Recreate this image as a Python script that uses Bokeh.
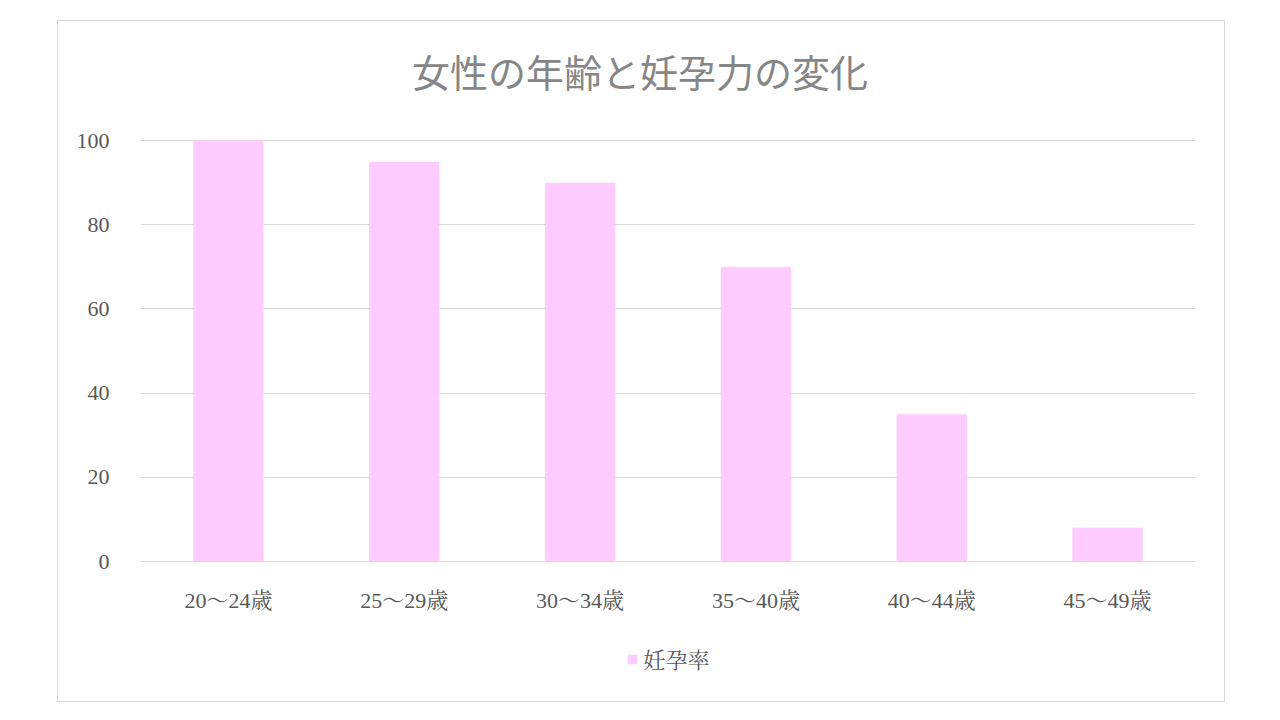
from bokeh.plotting import figure
from bokeh.models import ColumnDataSource, Range1d, Legend, LegendItem, Spacer
from bokeh.layouts import column, row
from bokeh.core.properties import value
from bokeh.embed import file_html
from bokeh.resources import INLINE

categories = ["20〜24歳", "25〜29歳", "30〜34歳", "35〜40歳", "40〜44歳", "45〜49歳"]
values = [100, 95, 90, 70, 35, 8]
series_name = "妊孕率"
title_text = "女性の年齢と妊孕力の変化"

SERIF = "Liberation Serif, Noto Serif CJK JP, Noto Sans CJK JP"
SANS = "Noto Sans CJK JP"
BAR = "#FFCCFF"
W = 1166

# title panel
p0 = figure(x_range=Range1d(0, 1), y_range=Range1d(0, 1), width=W, height=100,
            output_backend="svg", toolbar_location=None,
            min_border_left=0, min_border_right=0, min_border_top=0, min_border_bottom=0)
p0.axis.visible = False
p0.grid.visible = False
p0.outline_line_color = None
p0.text(x=[0.5], y=[0.46], text=[title_text], text_align="center", text_baseline="middle",
        x_offset=-28, y_offset=-5,
        text_font=value(SANS), text_font_size="38px", text_color="#868686")

# main chart
src = ColumnDataSource(dict(cat=categories, val=values))
p = figure(x_range=categories, y_range=Range1d(0, 100.5), width=W, height=520,
           output_backend="svg", toolbar_location=None,
           min_border_left=82, min_border_right=29, min_border_top=17,
           min_border_bottom=80)
p.vbar(x="cat", top="val", width=0.4, source=src, fill_color=BAR, line_color=None)

p.outline_line_color = None
p.xgrid.grid_line_color = None
p.ygrid.grid_line_color = "#d9d9d9"
p.ygrid.grid_line_width = 1

p.yaxis.ticker = [0, 20, 40, 60, 80, 100]
p.yaxis.axis_line_color = None
p.yaxis.major_tick_line_color = None
p.yaxis.minor_tick_line_color = None
p.yaxis.major_label_text_font = SERIF
p.yaxis.major_label_text_font_size = "22px"
p.yaxis.major_label_text_color = "#595959"
p.yaxis.major_label_standoff = 25

p.xaxis.axis_line_color = "#d9d9d9"
p.xaxis.major_tick_line_color = None
p.xaxis.minor_tick_line_color = None
p.xaxis.major_label_text_font = SERIF
p.xaxis.major_label_text_font_size = "22px"
p.xaxis.major_label_text_color = "#595959"
p.xaxis.major_label_standoff = 20

# legend panel
p2 = figure(x_range=categories, y_range=Range1d(0, 100.5), width=W, height=60,
            output_backend="svg", toolbar_location=None,
            x_axis_location=None, y_axis_location=None,
            min_border_left=0, min_border_right=0, min_border_top=0, min_border_bottom=0)
p2.grid.visible = False
p2.outline_line_color = None
r2 = p2.vbar(x=categories[:1], bottom=[0], top=[0], width=0.4, fill_color=BAR, line_color=None)
legend = Legend(items=[LegendItem(label=series_name, renderers=[r2])],
                orientation="horizontal", location="top_center",
                label_text_font=SERIF, label_text_font_size="22px",
                label_text_color="#595959", glyph_width=12, glyph_height=12,
                label_standoff=6, border_line_color=None, background_fill_alpha=0,
                margin=2, padding=4)
p2.add_layout(legend, "center")

box = column(p0, p, p2, styles={"border": "1px solid #d9d9d9", "background-color": "white"})
layout = column(Spacer(height=20), row(Spacer(width=57), box))

open("out.html", "w").write(file_html(layout, INLINE))
